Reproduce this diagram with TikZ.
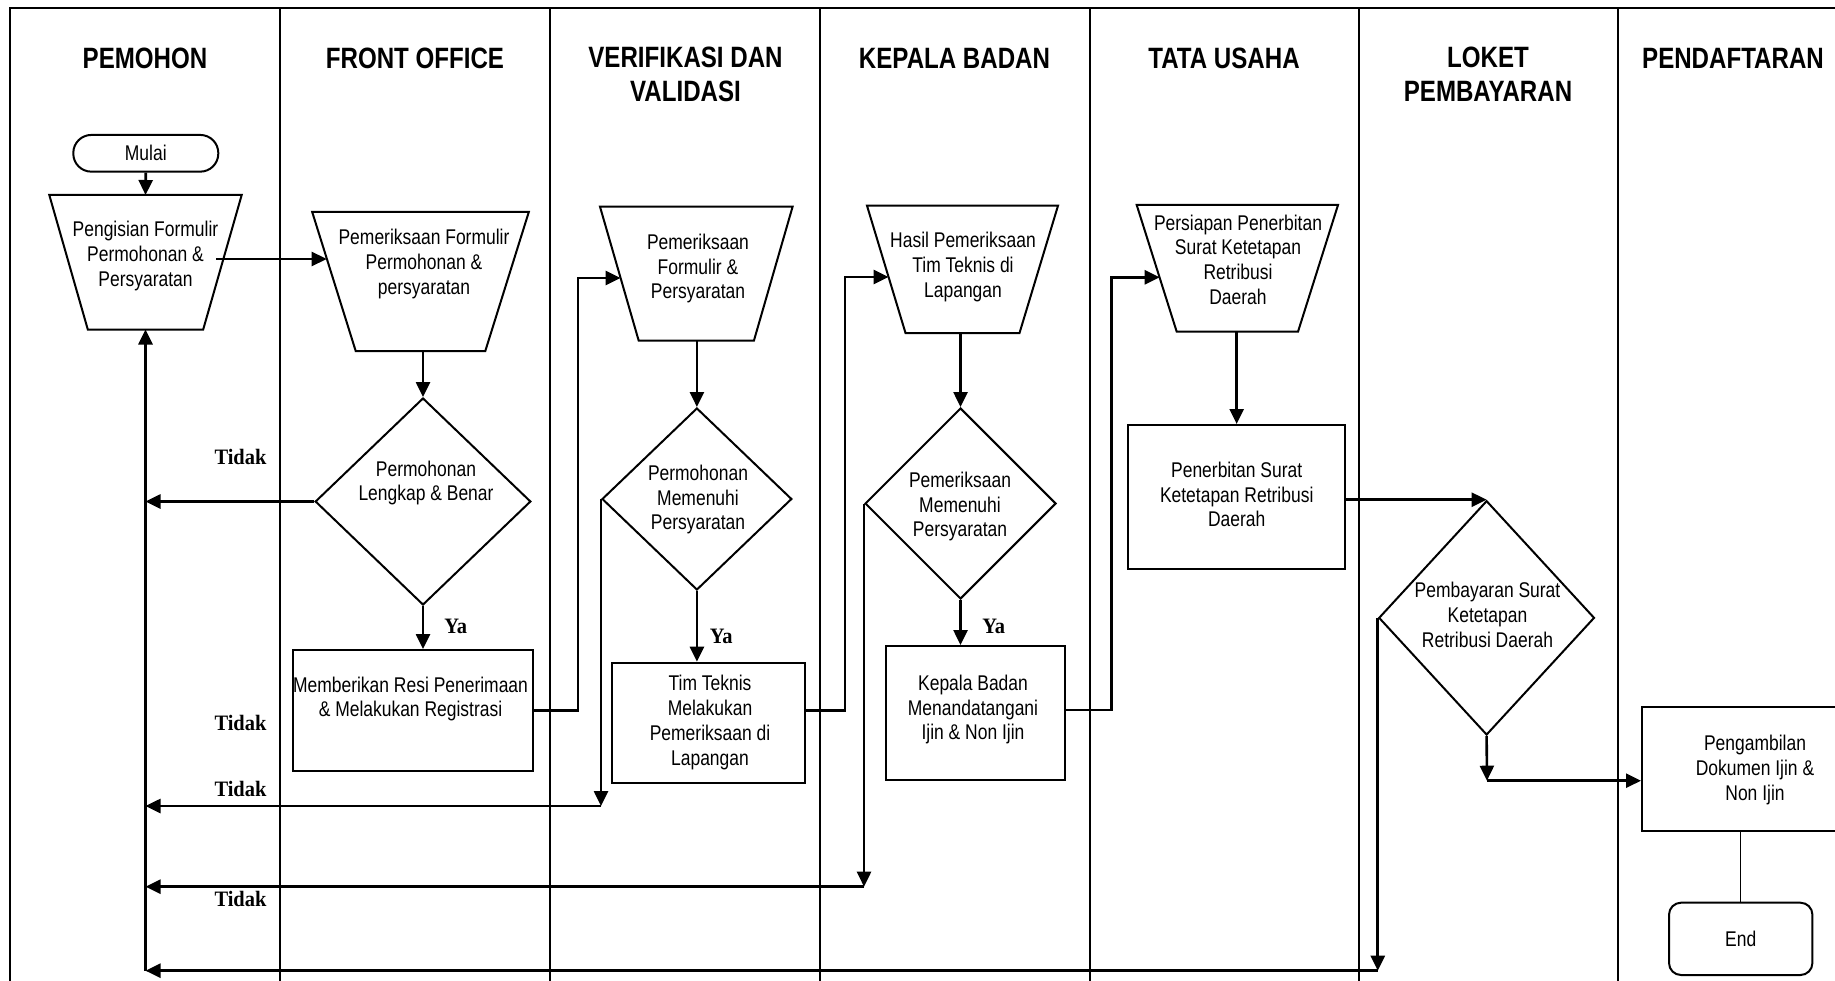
\documentclass[tikz,border=0pt]{standalone}
\usepackage{fontspec}
\setmainfont{Liberation Sans}[FakeStretch=0.82]
\newfontfamily\tnrfont{Liberation Serif}[FakeStretch=0.93]
\usetikzlibrary{arrows.meta,shapes.geometric}
\begin{document}
\begin{tikzpicture}[x=1pt,y=-1pt,
  lanes/.style={line width=1.5pt},
  frame/.style={line width=2.2pt},
  shp/.style={draw, line width=2pt, inner sep=0pt},
  tbox/.style={rectangle, draw=none, inner sep=0pt, outer sep=0pt},
  conn/.style={line width=2.6pt},
  thinconn/.style={line width=1.5pt},
  arr/.style={conn, -{Triangle[length=15pt,width=14pt]}},
  txt/.style={font=\fontsize{21.3}{24.7}\selectfont, align=center, inner sep=0pt},
  hdr/.style={font=\bfseries\fontsize{29.4}{34}\selectfont, align=center, inner sep=0pt},
  lbl/.style={font=\tnrfont\bfseries\fontsize{22}{24}\selectfont, inner sep=0pt},
]
\useasboundingbox (0,0) rectangle (1835,981);
\clip (0,0) rectangle (1835,981);

% frame and lanes
\draw[frame] (10,1000) -- (10,8) -- (1900,8);
\foreach \x in {280,550,820,1090,1359,1618} \draw[lanes] (\x,8) -- (\x,1000);

% headers
\node[hdr, anchor=base] (h1) at (145,69) {PEMOHON};
\node[hdr, anchor=base] (h2) at (415,69) {FRONT OFFICE};
\node[hdr] (h3) at (685.5,74.5) {VERIFIKASI DAN\\VALIDASI};
\node[hdr, anchor=base] (h4) at (954.5,69) {KEPALA BADAN};
\node[hdr, anchor=base] (h5) at (1224,69) {TATA USAHA};
\node[hdr] (h6) at (1488,74.5) {LOKET\\PEMBAYARAN};
\node[hdr, anchor=base] (h7) at (1733,69) {PENDAFTARAN};

% ---- lane 1
\node[shp, rounded corners=18pt, minimum width=145pt, minimum height=36.7pt, font=\fontsize{21.3}{24.7}\selectfont] (mulai) at (145.8,153.3) {Mulai};
\node[tbox, minimum width=192.4pt, minimum height=134.5pt] (t1) at (145.5,262.25) {};
\draw[shp] (t1.north west) -- (t1.north east) -- ([xshift=-38.5pt]t1.south east) -- ([xshift=38.5pt]t1.south west) -- cycle;
\node[txt] (t1txt) at (145.5,256) {Pengisian Formulir\\Permohonan \&\\Persyaratan};
\draw[arr] (mulai.south) -- (t1.north);

% ---- lane 2
\node[tbox, minimum width=216.6pt, minimum height=139pt] (t2) at (420.5,281.5) {};
\draw[shp] (t2.north west) -- (t2.north east) -- ([xshift=-43.5pt]t2.south east) -- ([xshift=43.5pt]t2.south west) -- cycle;
\node[txt] (t2txt) at (424,264) {Pemeriksaan Formulir\\Permohonan \&\\persyaratan};
\coordinate (s1) at (216,259);
\coordinate (t2in) at (326.7,259);
\draw[arr] (s1) -- (t2in);

\node[shp, diamond, minimum width=215.6pt, minimum height=207pt] (d1) at (423,501.5) {};
\node[txt] (d1txt) at (426,483) {Permohonan\\Lengkap \& Benar};
\draw[arr] (d1.north |- t2.south) -- (d1.north);

\node[shp, minimum width=240.4pt, minimum height=120.7pt] (b1) at (412.8,710.35) {};
\node[txt] (b1txt) at (410.5,699) {Memberikan Resi Penerimaan\\\& Melakukan Registrasi};
\draw[arr] (d1.south) -- (d1.south |- b1.north);
\node[lbl] (ya1) at (455.8,626.7) {Ya};

% ---- lane 3
\node[tbox, minimum width=192.6pt, minimum height=134pt] (t3) at (696.3,273.7) {};
\draw[shp] (t3.north west) -- (t3.north east) -- ([xshift=-38.7pt]t3.south east) -- ([xshift=38.7pt]t3.south west) -- cycle;
\node[txt] (t3txt) at (698,268.5) {Pemeriksaan\\Formulir \&\\Persyaratan};
\coordinate (t3in) at (620.6,278);
\draw[arr] (b1.east) -- ++(44,0) |- (t3in);

\node[shp, diamond, minimum width=189.8pt, minimum height=182pt] (d2) at (696.9,499) {};
\node[txt] (d2txt) at (698,499.5) {Permohonan\\Memenuhi\\Persyaratan};
\draw[arr] (d2.north |- t3.south) -- (d2.north);

\node[shp, minimum width=193pt, minimum height=120pt] (b2) at (708.5,722.7) {};
\node[txt] (b2txt) at (710,722.5) {Tim Teknis\\Melakukan\\Pemeriksaan di\\Lapangan};
\draw[arr] (d2.south) -- (d2.south |- b2.north);
\node[lbl] (ya2) at (721.3,636.7) {Ya};

% ---- lane 4
\node[tbox, minimum width=191pt, minimum height=127.3pt] (t4) at (962.5,269.35) {};
\draw[shp] (t4.north west) -- (t4.north east) -- ([xshift=-38.5pt]t4.south east) -- ([xshift=38.5pt]t4.south west) -- cycle;
\node[txt] (t4txt) at (963,267) {Hasil Pemeriksaan\\Tim Teknis di\\Lapangan};
\coordinate (t4in) at (888.6,277);
\draw[arr] ([yshift=12pt]b2.east) -- ++(39,0) |- (t4in);

\node[shp, diamond, minimum width=191pt, minimum height=191pt] (d3) at (960.5,503.5) {};
\node[txt] (d3txt) at (960,506.5) {Pemeriksaan\\Memenuhi\\Persyaratan};
\draw[arr] (d3.north |- t4.south) -- (d3.north);

\node[shp, minimum width=179pt, minimum height=134pt] (b3) at (975,713) {};
\node[txt] (b3txt) at (973,709.5) {Kepala Badan\\Menandatangani\\Ijin \& Non Ijin};
\draw[arr] (d3.south) -- (d3.south |- b3.north);
\node[lbl] (ya3) at (993.8,626.7) {Ya};

% ---- lane 5
\node[tbox, minimum width=201.3pt, minimum height=126.7pt] (t5) at (1237.35,268.35) {};
\draw[shp] (t5.north west) -- (t5.north east) -- ([xshift=-40pt]t5.south east) -- ([xshift=40pt]t5.south west) -- cycle;
\node[txt] (t5txt) at (1238,259.5) {Persiapan Penerbitan\\Surat Ketetapan\\Retribusi\\Daerah};
\coordinate (t5in) at (1159.7,277.3);
\draw[arr] ([yshift=3pt]b3.east) -- ++(46,0) |- (t5in);

\node[shp, minimum width=216.7pt, minimum height=144.3pt] (b4) at (1236.65,497.15) {};
\node[txt] (b4txt) at (1236.7,494.5) {Penerbitan Surat\\Ketetapan Retribusi\\Daerah};
\draw[arr] (b4.north |- t5.south) -- (b4.north);

% ---- lane 6
\node[shp, diamond, minimum width=215.7pt, minimum height=234.3pt] (d4) at (1486.6,617.85) {};
\node[txt] (d4txt) at (1487.5,615) {Pembayaran Surat\\Ketetapan\\Retribusi Daerah};
\draw[arr] (b4.east |- d4.north) -- (d4.north);

% ---- lane 7
\node[shp, minimum width=226pt, minimum height=124pt] (b5) at (1755,768.7) {};
\node[txt] (b5txt) at (1755,770) {Pengambilan\\Dokumen Ijin \&\\Non Ijin};
\node[shp, rounded corners=12pt, minimum width=143.4pt, minimum height=72.3pt, font=\fontsize{21.3}{24.7}\selectfont] (endb) at (1740.7,938.85) {End};
\draw[thinconn] (endb.north) -- (endb.north |- b5.south);

\coordinate (k5) at (1487,780.7);
\draw[arr] (d4.south) -- (k5);
\draw[arr] (k5) -- (k5 -| b5.west);

% ---- return paths (Tidak)
\coordinate (k2) at (601,806);
\coordinate (k3) at (864,886.7);
\coordinate (k4) at (1376,970.7);
\draw[arr] (d1.west) -- (d1.west -| t1.south);
\draw[arr] (d2.west) -- (d2.west |- k2);
\draw[arr] (d2.west |- k2) -- (t1.south |- k2);
\draw[arr] (d3.west) -- (d3.west |- k3);
\draw[arr] (d3.west |- k3) -- (t1.south |- k3);
\draw[arr] (d4.west) -- (d4.west |- k4);
\draw[arr] (d4.west |- k4) -- (t1.south |- k4);
\draw[arr] (t1.south |- k4) -- (t1.south);

\node[lbl] (n1) at (240.5,456.7) {Tidak};
\node[lbl] (n2) at (240.5,723) {Tidak};
\node[lbl] (n3) at (240.5,789) {Tidak};
\node[lbl] (n4) at (240.5,899.3) {Tidak};
\end{tikzpicture}
\end{document}
